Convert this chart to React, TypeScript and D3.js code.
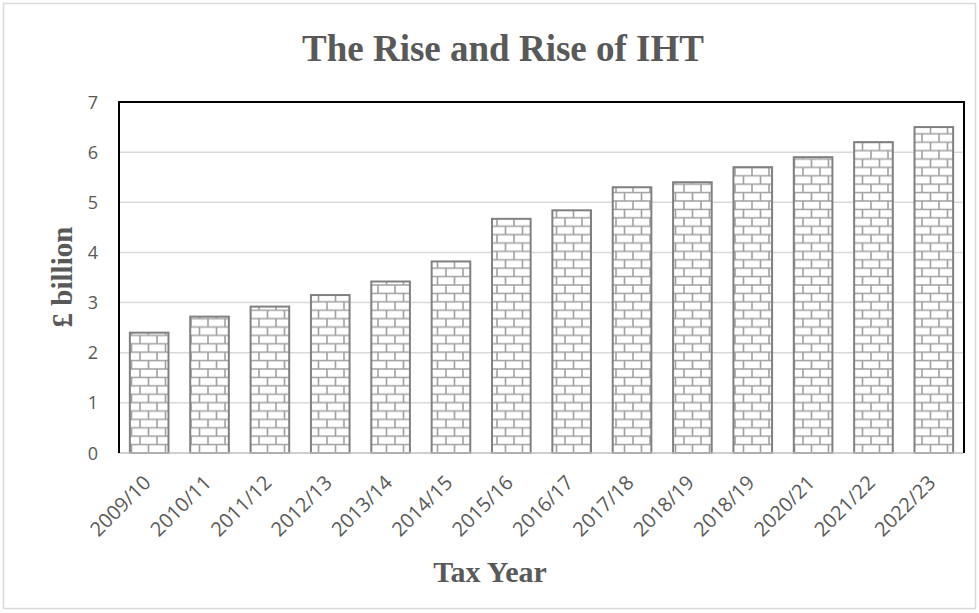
import React from "react";
import * as d3 from "d3";

const categories = ["2009/10","2010/11","2011/12","2012/13","2013/14","2014/15","2015/16","2016/17","2017/18","2018/19","2018/19 ","2020/21","2021/22","2022/23"];
const values = [2.4, 2.72, 2.92, 3.15, 3.42, 3.82, 4.67, 4.84, 5.3, 5.4, 5.7, 5.9, 6.2, 6.5];
const yTicks = [0, 1, 2, 3, 4, 5, 6, 7];

const W = 979, H = 613;
const plot = { left: 119, right: 964, top: 102, bottom: 453 };

export default function App() {
  const x = d3.scaleBand<string>().domain(categories).range([plot.left, plot.right]).paddingInner(0.36).paddingOuter(0.18);
  const y = d3.scaleLinear().domain([0, 7]).range([plot.bottom, plot.top]);
  const textGray = "#595959";
  const bh = 8.4, bw = 17;
  const serif = "'Liberation Serif', 'Times New Roman', serif";
  const sans = "'Open Sans', 'Liberation Sans', sans-serif";
  return (
    <svg width={W} height={H} style={{ position: "absolute", left: 0, top: 0, background: "#fff" }}>
      <defs>
        <pattern id="brick" patternUnits="userSpaceOnUse" width={bw * 2} height={bh * 2} x={0} y={plot.bottom}>
          <rect width={bw * 2} height={bh * 2} fill="#fff" />
          <g stroke="#a0a0a0" strokeWidth={1.6}>
            <line x1={0} x2={bw * 2} y1={0} y2={0} />
            <line x1={0} x2={bw * 2} y1={bh} y2={bh} />
            <line x1={0} x2={bw * 2} y1={bh * 2} y2={bh * 2} />
            <line x1={4} x2={4} y1={0} y2={bh} />
            <line x1={4 + bw} x2={4 + bw} y1={0} y2={bh} />
            <line x1={4 + bw / 2} x2={4 + bw / 2} y1={bh} y2={bh * 2} />
            <line x1={4 + bw * 1.5} x2={4 + bw * 1.5} y1={bh} y2={bh * 2} />
          </g>
        </pattern>
      </defs>
      <rect x={3.5} y={3.5} width={W - 7} height={H - 8} fill="none" stroke="#d9d9d9" strokeWidth={1.5} />
      <text x={503} y={61} textAnchor="middle" fontFamily={serif} fontWeight="bold" fontSize={37} fill={textGray}>The Rise and Rise of IHT</text>
      {yTicks.slice(1).map(t => (
        <line key={t} x1={plot.left} x2={plot.right} y1={y(t)} y2={y(t)} stroke="#d9d9d9" strokeWidth={1.5} />
      ))}
      {yTicks.map(t => (
        <text key={"l" + t} x={98} y={y(t) + 6.5} textAnchor="end" fontFamily={sans} fontSize={18} fill={textGray}>{t}</text>
      ))}
      {categories.map((c, i) => (
        <rect key={c} x={x(c)} y={y(values[i])} width={x.bandwidth()} height={plot.bottom - y(values[i])} fill="url(#brick)" stroke="#808080" strokeWidth={2} />
      ))}
      <line x1={plot.left} x2={plot.right} y1={plot.bottom} y2={plot.bottom} stroke="#bfbfbf" strokeWidth={1.5} />
      <path d={`M${plot.left},${plot.bottom}V${plot.top}H${plot.right}V${plot.bottom}`} fill="none" stroke="#000" strokeWidth={2} />
      {categories.map(c => {
        const cx = (x(c) as number) + x.bandwidth() / 2 + 3;
        const cy = 484;
        return (
          <text key={"x" + c} transform={`translate(${cx},${cy}) rotate(-45)`} textAnchor="end" fontFamily={sans} fontSize={20} fill={textGray}>{c.trim()}</text>
        );
      })}
      <text transform={`translate(72,277) rotate(-90)`} textAnchor="middle" fontFamily={serif} fontWeight="bold" fontSize={29} fill={textGray}>£ billion</text>
      <text x={490} y={582} textAnchor="middle" fontFamily={serif} fontWeight="bold" fontSize={30} fill={textGray}>Tax Year</text>
    </svg>
  );
}
